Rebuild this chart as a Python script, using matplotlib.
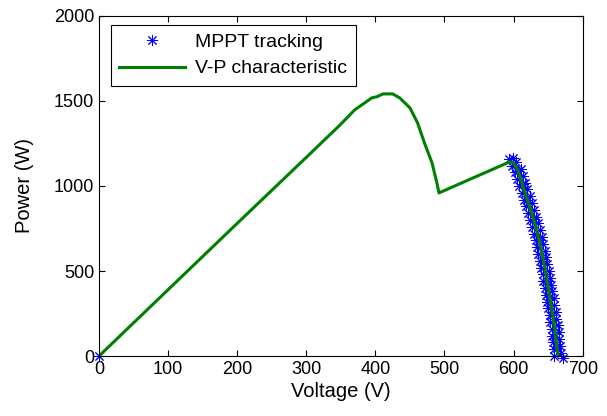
import matplotlib
matplotlib.use("Agg")
import matplotlib.pyplot as plt
import numpy as np

plt.rcParams['font.family'] = ['Liberation Sans', 'DejaVu Sans']

# V-P characteristic
v_curve = [0, 100, 200, 300, 349, 370, 395, 402, 411, 425, 435, 450, 461, 471,
           482, 489, 492, 540, 594, 600, 606, 613, 620, 628, 638, 646, 650, 655, 660, 664]
p_curve = [0, 390, 780, 1168, 1359, 1447, 1518, 1524, 1541, 1541, 1518, 1459, 1371, 1253,
           1135, 1018, 959, 1045, 1141, 1135, 1095, 1005, 915, 818, 665, 500, 400, 280, 150, 0]

# MPPT tracking points (scattered around the right-hand knee)
v_mppt = [0,
          593, 597, 602, 605, 608, 612, 615, 618, 621, 624, 627, 629, 632, 634, 636,
          638, 640, 642, 643, 645, 647, 648, 650, 652, 653, 655, 656, 657, 658, 659,
          604, 610, 614, 617, 620, 623, 626, 630, 633, 636, 638, 641, 643, 645, 647,
          649, 651, 653, 654, 656, 658, 659, 661, 662, 664, 665, 666, 667, 669, 671,
          599, 607, 613, 620, 629, 637, 643, 648, 652, 656, 660, 663]
p_mppt = [0,
          1160, 1120, 1080, 1040, 1000, 960, 920, 880, 840, 800, 760, 720, 680, 640, 600,
          560, 520, 480, 440, 400, 360, 320, 280, 240, 200, 160, 120, 80, 40, 0,
          1140, 1100, 1060, 1020, 980, 940, 900, 860, 820, 780, 740, 700, 660, 620, 580,
          540, 500, 460, 420, 380, 340, 300, 260, 220, 180, 140, 100, 60, 20, -10,
          1165, 1085, 1010, 915, 805, 680, 560, 440, 350, 240, 130, 50]

fig = plt.figure(figsize=(6.07, 4.16), dpi=100)
ax = fig.add_axes([0.163, 0.144, 0.797, 0.818])

ax.plot(v_mppt, p_mppt, linestyle='none', marker=(8, 2, 0), color='blue',
        markersize=8, markeredgewidth=0.7, label='MPPT tracking', clip_on=False)
ax.plot(v_curve, p_curve, color='green', linewidth=2.2, label='V-P characteristic')

ax.set_xlim(0, 700)
ax.set_ylim(0, 2000)
ax.set_xticks(np.arange(0, 701, 100))
ax.set_yticks(np.arange(0, 2001, 500))
ax.tick_params(direction='in', top=True, right=True, length=4, labelsize=13)
ax.set_xlabel('Voltage (V)', fontsize=14.5, labelpad=3)
ax.set_ylabel('Power (W)', fontsize=14.5, labelpad=14)

leg = ax.legend(loc='upper left', bbox_to_anchor=(0.024, 0.974), fontsize=14,
                fancybox=False, edgecolor='black', framealpha=1, handlelength=3.4,
                handletextpad=0.5, borderaxespad=0, borderpad=0.45, labelspacing=0.45)
leg.get_frame().set_linewidth(0.8)

fig.savefig('out.png', dpi=100)
